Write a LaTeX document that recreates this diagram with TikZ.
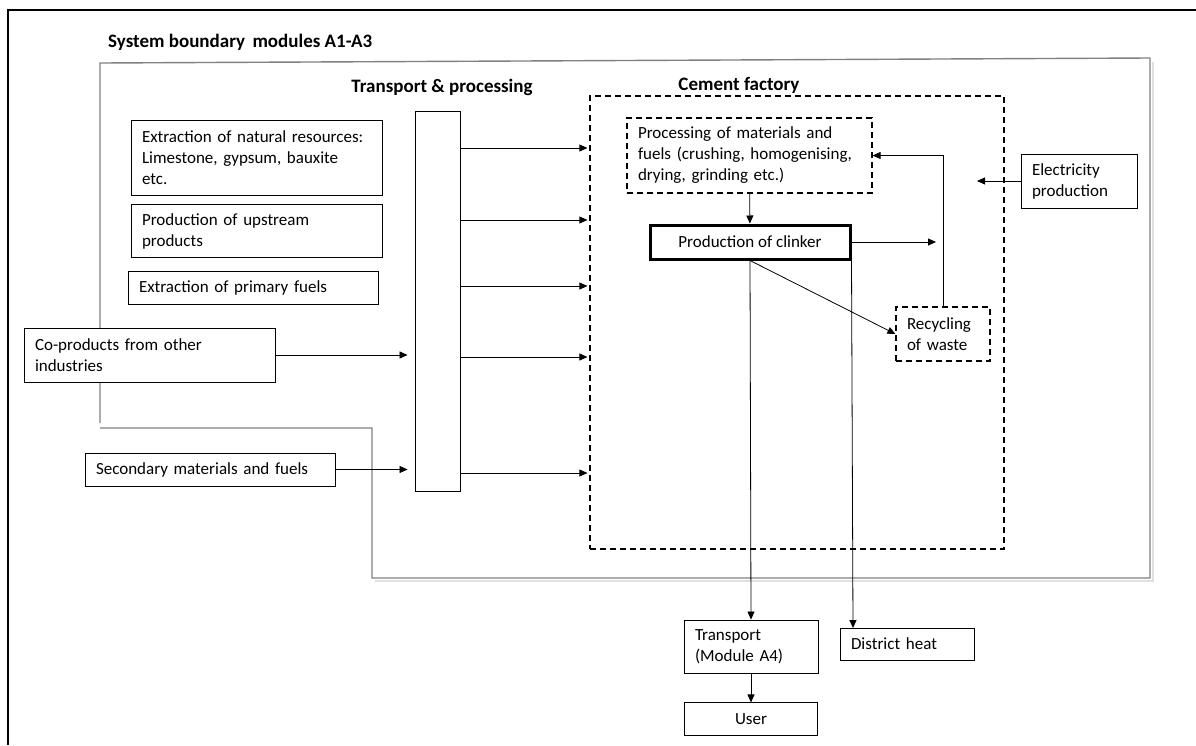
\documentclass[tikz,border=0pt]{standalone}
\usepackage{fontspec}
\setmainfont{Carlito}
\usetikzlibrary{positioning, calc, arrows.meta}

\begin{document}
\begin{tikzpicture}
  [
  x=1pt, y=-1pt,
  block/.style = {rectangle, draw, fill=white, line width=0.9pt,
    inner xsep=11pt, inner ysep=0pt, align=left,
    font=\fontsize{17}{21}\selectfont},
  % garis putus
  dashblock/.style = {block, dash pattern=on 6pt off 4pt, line width=1.2pt},
  % judul
  judul/.style = {inner sep=0pt, font=\bfseries\fontsize{19}{23}\selectfont},
  % line
  line/.style = {draw, -{Triangle[length=8pt, width=7pt]}, line width=0.8pt},
  % batas sistem
  batas/.style = {draw, black!50, line width=1.4pt},
  node distance = 9pt,
  ]
  \useasboundingbox (0,0) rectangle (1196,745);

  % frame dan batas A1-A3
  \draw [line width=1.2pt] (8,745) -- (8,10) -- (1196,10);
  \draw [black!12, line width=2pt] (1153,62) -- (1153,581) -- (375,581);
  \draw [batas] (100,423) -- (100,63) -- (1150,58) -- (1150,578)
    -- (372,578) -- (372,428) -- (100,428);

  % nodes
  \node [judul, anchor=west] (sysb) at (108,42)
  {System boundary\, modules A1-A3};
  \node [dashblock, minimum width=414pt, minimum height=453pt] (cement) at (797,322.5) {};
  \node [judul] (cementjud) at (739,85) {Cement factory};
  \node [judul] (transpjud) at (442,87) {Transport \& processing};
  \node [block, text width=229pt, minimum height=75pt] (nat) at (256.5,157.5)
  {Extraction of natural resources:\\ Limestone, gypsum, bauxite\\ etc.};
  \node [block, text width=229pt, minimum height=53pt, below = of nat] (upstr)
  {Production of upstream\\ products};
  \node [block, text width=228pt, minimum height=33pt, below = 13pt of upstr, xshift=-3.5pt] (prim)
  {Extraction of primary fuels};
  \node [block, text width=229pt, minimum height=54pt] (coprod) at (149.5,355)
  {Co-products from other\\ industries};
  \node [block, text width=228pt, minimum height=33pt] (sec) at (210,469.5)
  {Secondary materials and fuels};
  \node [block, inner xsep=0pt, minimum width=45pt, minimum height=380pt] (transp) at (437.5,301) {};
  \node [dashblock, text width=223pt, minimum height=75pt] (proc) at (749.5,155.5)
  {Processing of materials and\\ fuels (crushing, homogenising,\\ drying, grinding etc.)};
  \node [block, line width=3pt, align=center, minimum width=200pt, minimum height=34pt] (clinker) at (750,242)
  {Production of clinker};
  \node [dashblock, text width=72pt, minimum height=54pt] (recyc) at (943,334)
  {Recycling\\ of waste};
  \node [block, text width=94pt, minimum height=54pt] (elec) at (1079,181)
  {Electricity\\ production};
  \node [block, text width=112pt, minimum height=53pt] (trans) at (751,646.5)
  {Transport\\ (Module A4)};
  \node [block, text width=112pt, minimum height=32pt] (heat) at (907,644)
  {District heat};
  \node [block, align=center, minimum width=133pt, minimum height=33pt, below = 29pt of trans] (user)
  {User};
  % ujung bebas
  \coordinate (clinkerout) at (936,242);
  \coordinate (elecin) at (977,181);
  \coordinate (heatin) at (853,628);

  % path
  \path [line, shorten >=2pt] (transp.east |- 0,148) -- (cement.west |- 0,148);
  \path [line, shorten >=2pt] (transp.east |- 0,220) -- (cement.west |- 0,220);
  \path [line, shorten >=2pt] (transp.east |- 0,286) -- (cement.west |- 0,286);
  \path [line, shorten >=2pt] (transp.east |- 0,357) -- (cement.west |- 0,357);
  \path [line, shorten >=2pt] (transp.east |- 0,473) -- (cement.west |- 0,473);
  \path [line, shorten >=7pt] (coprod) -- (coprod -| transp.west);
  \path [line, shorten >=7pt] (sec) -- (sec -| transp.west);
  \path [line] (proc) -- (clinker);
  \path [line] (clinker.east) -- (clinkerout);
  \path [line] (clinker.south) -- (recyc.west);
  \path [line] (recyc.north) |- (proc.east);
  \path [line] (elec.west) -- (elecin);
  % keluar dari pabrik
  \path [line] (clinker.south) -- (trans.north);
  \path [line] (clinker.south east) -- (heatin);
  \path [line] (trans) -- (user);

\end{tikzpicture}
\end{document}
